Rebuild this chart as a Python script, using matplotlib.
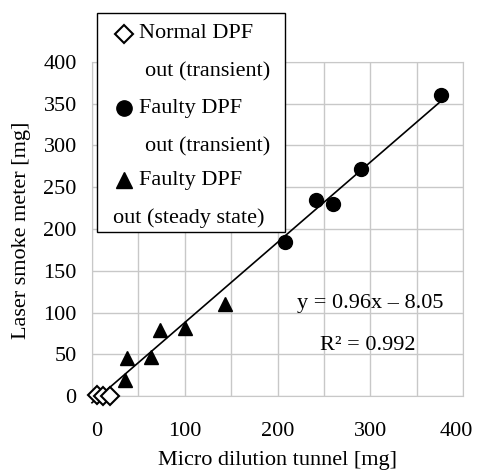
import matplotlib
matplotlib.use("Agg")
import matplotlib.pyplot as plt
import matplotlib.transforms as mtransforms
import numpy as np
from matplotlib.lines import Line2D
from matplotlib.patches import Rectangle

plt.rcParams['font.family'] = ['Liberation Serif', 'DejaVu Serif']

# Data
normal_x = [5, 12, 19]
normal_y = [1, 0, 0]
faulty_x = [208, 241, 260, 290, 376]
faulty_y = [185, 235, 230, 272, 360]
steady_x = [36, 38, 64, 73, 100, 143]
steady_y = [19, 46, 47, 79, 82, 110]
fit_slope = 0.96
fit_intercept = -8.05
fit_range = [0, 375]
x_ticks = [0, 50, 100, 150, 200, 250, 300, 350, 400]
x_ticklabels = ['0', '', '100', '', '200', '', '300', '', '400']
y_ticks = [0, 50, 100, 150, 200, 250, 300, 350, 400]
legend_labels = [("Normal DPF", "out (transient)"),
                 ("Faulty DPF", "out (transient)"),
                 ("Faulty DPF", "out (steady state)")]

FS = 16
W, H = 478, 473
fig = plt.figure(figsize=(W / 100, H / 100), dpi=100)

def fx(px):
    return px / W

def fy(py):
    return 1 - py / H

L, R, T, B = 92, 463, 62, 396
ax = fig.add_axes([fx(L), fy(B), fx(R) - fx(L), fy(T) - fy(B)])
ax.set_xlim(0, 400)
ax.set_ylim(0, 400)
ax.set_xticks(x_ticks)
ax.set_xticklabels(x_ticklabels)
ax.set_yticks(y_ticks)
ax.grid(True, color='#c8c8c8', lw=1)
ax.set_axisbelow(True)
for s in ax.spines.values():
    s.set_color('#c8c8c8')
ax.tick_params(length=0, labelsize=FS, colors='black')
ax.tick_params(axis='x', pad=19)
ax.tick_params(axis='y', pad=11)

# small horizontal nudges of x tick labels as in the reference
nudges = {'0': 5, '400': -7}
for lab in ax.get_xticklabels():
    d = nudges.get(lab.get_text(), 0)
    if d:
        lab.set_transform(lab.get_transform() +
                          mtransforms.ScaledTranslation(d / 100, 0, fig.dpi_scale_trans))

fx_line = np.array(fit_range, dtype=float)
ax.plot(fx_line, fit_slope * fx_line + fit_intercept, color='black', lw=1.2, clip_on=False, zorder=2)

ax.plot(normal_x, normal_y, linestyle='none', marker='D', markersize=9,
        markerfacecolor='white', markeredgecolor='black', markeredgewidth=1.5,
        clip_on=False, zorder=3)
ax.plot(faulty_x, faulty_y, linestyle='none', marker='o', markersize=10,
        color='black', clip_on=False, zorder=3)
ax.plot(steady_x, steady_y, linestyle='none', marker='^', markersize=10,
        color='black', clip_on=False, zorder=3)

ax.text((370 - L) / (R - L), (B - 303) / (B - T), 'y = 0.96x – 8.05',
        transform=ax.transAxes, ha='center', va='center', fontsize=FS)
ax.text((368 - L) / (R - L), (B - 345) / (B - T), 'R² = 0.992',
        transform=ax.transAxes, ha='center', va='center', fontsize=FS)

ax.set_xlabel('Micro dilution tunnel [mg]', fontsize=FS, va='center')
ax.xaxis.set_label_coords((277 - L) / (R - L), (B - 460) / (B - T))
ax.set_ylabel('Laser smoke meter [mg]', fontsize=FS, va='center')
ax.yaxis.set_label_coords((22 - L) / (R - L), (B - 230) / (B - T))

# Legend box (manual, spans beyond plot area)
rect = Rectangle((fx(97), fy(232)), fx(285) - fx(97), fy(13) - fy(232),
                 transform=fig.transFigure, facecolor='white', edgecolor='black',
                 lw=1, zorder=10)
fig.patches.append(rect)
markers = [dict(marker='D', markersize=9, markerfacecolor='white', markeredgecolor='black', markeredgewidth=1.5),
           dict(marker='o', markersize=11, color='black'),
           dict(marker='^', markersize=11, color='black')]
row_y = [(34, 72), (108, 147), (180, 218)]
second_x = [145, 145, 113]
for (l1, l2), m, (y1, y2), sx in zip(legend_labels, markers, row_y, second_x):
    ln = Line2D([fx(124)], [fy(y1)], transform=fig.transFigure, linestyle='none', zorder=11, **m)
    fig.lines.append(ln)
    fig.text(fx(139), fy(y1), l1, ha='left', va='center', fontsize=FS, zorder=11)
    fig.text(fx(sx), fy(y2), l2, ha='left', va='center', fontsize=FS, zorder=11)

fig.savefig('out.png', dpi=100)
